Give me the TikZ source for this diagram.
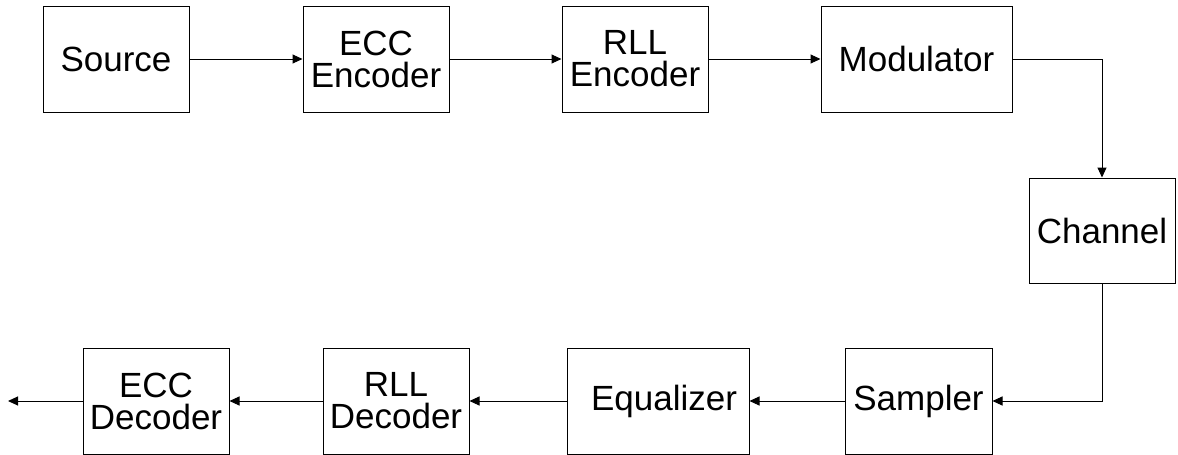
\documentclass[tikz,border=0pt]{standalone}
\usepackage{fontspec}
\setmainfont{Liberation Sans}
\usetikzlibrary{arrows.meta}
\begin{document}
\begin{tikzpicture}[x=1pt,y=-1pt,
  blk/.style={draw=black, line width=1pt, rectangle, inner sep=0pt, align=center,
    font=\fontsize{35pt}{32pt}\selectfont, minimum width=146pt, minimum height=106pt},
  conn/.style={draw=black, line width=1pt, -{Triangle[length=10pt,width=9pt]}}]
\useasboundingbox (0,0) rectangle (1178,455);
\node[blk] (src) at (116,59) {Source};
\node[blk] (ecce) at (376,59) {ECC\\Encoder};
\node[blk] (rlle) at (635,59) {RLL\\Encoder};
\node[blk, minimum width=191pt] (mod) at (916.5,59) {Modulator};
\node[blk, minimum height=105pt] (chan) at (1102,230.5) {Channel};
\node[blk, minimum width=147pt] (samp) at (918.5,401) {Sampler};
\node[blk, minimum width=182pt] (eq) at (658,401) {\hspace*{12pt}Equalizer};
\node[blk] (rlld) at (396,401) {RLL\\Decoder};
\node[blk] (eccd) at (156,401) {ECC\\Decoder};
\coordinate (out) at (8,401);
\draw[conn] (src.east) -- (ecce.west);
\draw[conn] (ecce.east) -- (rlle.west);
\draw[conn] (rlle.east) -- (mod.west);
\draw[conn] (mod.east) -| (chan.north);
\draw[conn] (chan.south) |- (samp.east);
\draw[conn] (samp.west) -- (eq.east);
\draw[conn] (eq.west) -- (rlld.east);
\draw[conn] (rlld.west) -- (eccd.east);
\draw[conn] (eccd.west) -- (out);
\end{tikzpicture}
\end{document}
